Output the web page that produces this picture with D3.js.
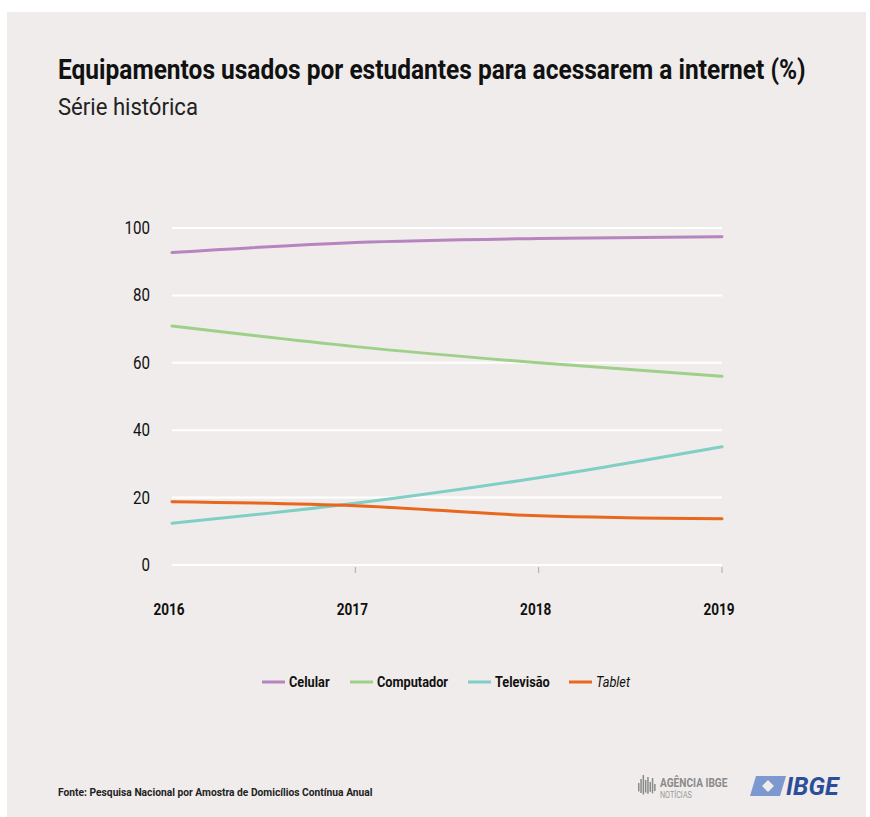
<!DOCTYPE html>
<html>
<head>
<meta charset="utf-8">
<script src="https://cdn.jsdelivr.net/npm/d3@7"></script>
<style>
  body { margin: 0; background: #fff; }
  svg text { font-family: "Roboto", "Liberation Sans", sans-serif; }
</style>
</head>
<body>
<svg id="chart" width="870" height="817"></svg>
<script>
// data
let years = [2016, 2017, 2018, 2019];
let celular = [92.7, 95.7, 96.9, 97.4];
let computador = [70.9, 64.8, 60.0, 56.0];
let televisao = [12.4, 18.3, 25.9, 35.1];
let tablet = [18.8, 17.6, 14.6, 13.7];
let yTicks = [0, 20, 40, 60, 80, 100];

let series = [
  { name: 'Celular', values: celular, color: '#b784c0', italic: false },
  { name: 'Computador', values: computador, color: '#9fd08a', italic: false },
  { name: 'Televisão', values: televisao, color: '#7fcfc4', italic: false },
  { name: 'Tablet', values: tablet, color: '#e8661e', italic: true }
];

var svg = d3.select('#chart');

// squeeze text horizontally, fonts here are wider than the original condensed face
function narrow(sel, x, y, k) {
  sel.attr('transform', `translate(${x},${y}) scale(${k},1)`);
}

svg.append('rect')
  .attr('x', 7).attr('y', 12)
  .attr('width', 859).attr('height', 805)
  .attr('fill', '#efeceb');

let title = svg.append('text')
  .attr('font-size', 28).attr('font-weight', 'bold')
  .attr('fill', '#111')
  .text('Equipamentos usados por estudantes para acessarem a internet (%)');
let tw = title.node().getComputedTextLength();
narrow(title, 58, 79, 748 / tw);

let sub = svg.append('text')
  .attr('font-size', 23)
  .attr('fill', '#222')
  .text('Série histórica');
narrow(sub, 58, 115, 140 / sub.node().getComputedTextLength());

let x = d3.scalePoint().domain(years).range([172, 722]);
let y = d3.scaleLinear().domain([0, 100]).range([565, 228]);

let plot = svg.append('g');

// grid
plot.append('g')
  .selectAll('line')
  .data(yTicks)
  .enter()
  .append('line')
  .attr('x1', 172).attr('x2', 722)
  .attr('y1', d => y(d)).attr('y2', d => y(d))
  .attr('stroke', '#fff').attr('stroke-width', 2);

// y labels
plot.append('g')
  .selectAll('text')
  .data(yTicks)
  .enter()
  .append('text')
  .attr('text-anchor', 'end')
  .attr('font-size', 18)
  .attr('fill', '#111')
  .text(d => d)
  .each(function (d) { narrow(d3.select(this), 150, y(d) + 6, 0.84); });

// x ticks (not at first year)
plot.append('g')
  .selectAll('line')
  .data(years.slice(1))
  .enter()
  .append('line')
  .attr('x1', d => x(d)).attr('x2', d => x(d))
  .attr('y1', y(0) + 2).attr('y2', y(0) + 8)
  .attr('stroke', '#aaa').attr('stroke-width', 1);

plot.append('g')
  .selectAll('text')
  .data(years)
  .enter()
  .append('text')
  .attr('text-anchor', 'middle')
  .attr('font-size', 17).attr('font-weight', 'bold')
  .attr('fill', '#111')
  .text(d => d)
  .each(function (d) { narrow(d3.select(this), x(d) - 3, 615, 0.8); });

let line = d3.line()
  .x((d, i) => x(years[i]))
  .y(d => y(d))
  .curve(d3.curveMonotoneX);

plot.append('g')
  .selectAll('path')
  .data(series)
  .enter()
  .append('path')
  .attr('d', d => line(d.values))
  .attr('fill', 'none')
  .attr('stroke', d => d.color)
  .attr('stroke-width', 3)
  .attr('stroke-linecap', 'round');

// legend
let legendX = [262, 350, 468, 569];
let legend = svg.append('g')
  .selectAll('g')
  .data(series)
  .enter()
  .append('g')
  .attr('transform', (d, i) => `translate(${legendX[i]},682)`);

legend.append('line')
  .attr('x1', 0).attr('x2', 23)
  .attr('stroke', d => d.color).attr('stroke-width', 3);

legend.append('text')
  .attr('font-size', 15).attr('font-weight', d => d.italic ? 'normal' : 'bold')
  .attr('font-style', d => d.italic ? 'italic' : 'normal')
  .attr('fill', '#111')
  .text(d => d.name)
  .each(function () { narrow(d3.select(this), 27, 5, 0.85); });

// footer
let src = svg.append('text')
  .attr('font-size', 11).attr('font-weight', 'bold')
  .attr('fill', '#222')
  .text('Fonte: Pesquisa Nacional por Amostra de Domicílios Contínua Anual');
narrow(src, 58, 796, 315 / src.node().getComputedTextLength());

// logos (approximated)
let logo = svg.append('g').attr('transform', 'translate(638,775)');
logo.selectAll('rect')
  .data([6, 10, 14, 9, 12, 7, 11, 5])
  .enter()
  .append('rect')
  .attr('x', (d, i) => i * 2.3)
  .attr('y', d => 14 - d)
  .attr('width', 1.5)
  .attr('height', d => d * 1.4)
  .attr('fill', '#8a8a8a');
let ag = logo.append('text')
  .attr('font-size', 13).attr('font-weight', 'bold')
  .attr('fill', '#8a8a8a')
  .text('AGÊNCIA IBGE');
narrow(ag, 22, 12, 0.78);
let nt = logo.append('text')
  .attr('font-size', 9)
  .attr('fill', '#9a9a9a')
  .text('NOTÍCIAS');
narrow(nt, 22, 23, 0.8);

let ibge = svg.append('g').attr('transform', 'translate(752,776)');
ibge.append('path')
  .attr('d', 'M4,0 L34,0 L28,20 L-2,20 Z')
  .attr('fill', '#7d97cf');
ibge.append('path')
  .attr('d', 'M16,4 L22,10 L16,16 L10,10 Z')
  .attr('fill', '#efeceb');
ibge.append('text')
  .attr('x', 34).attr('y', 19)
  .attr('font-size', 25).attr('font-weight', 'bold').attr('font-style', 'italic')
  .attr('fill', '#2c4e9a')
  .attr('font-family', 'Liberation Sans, Arial, sans-serif')
  .text('IBGE');
</script>
</body>
</html>
